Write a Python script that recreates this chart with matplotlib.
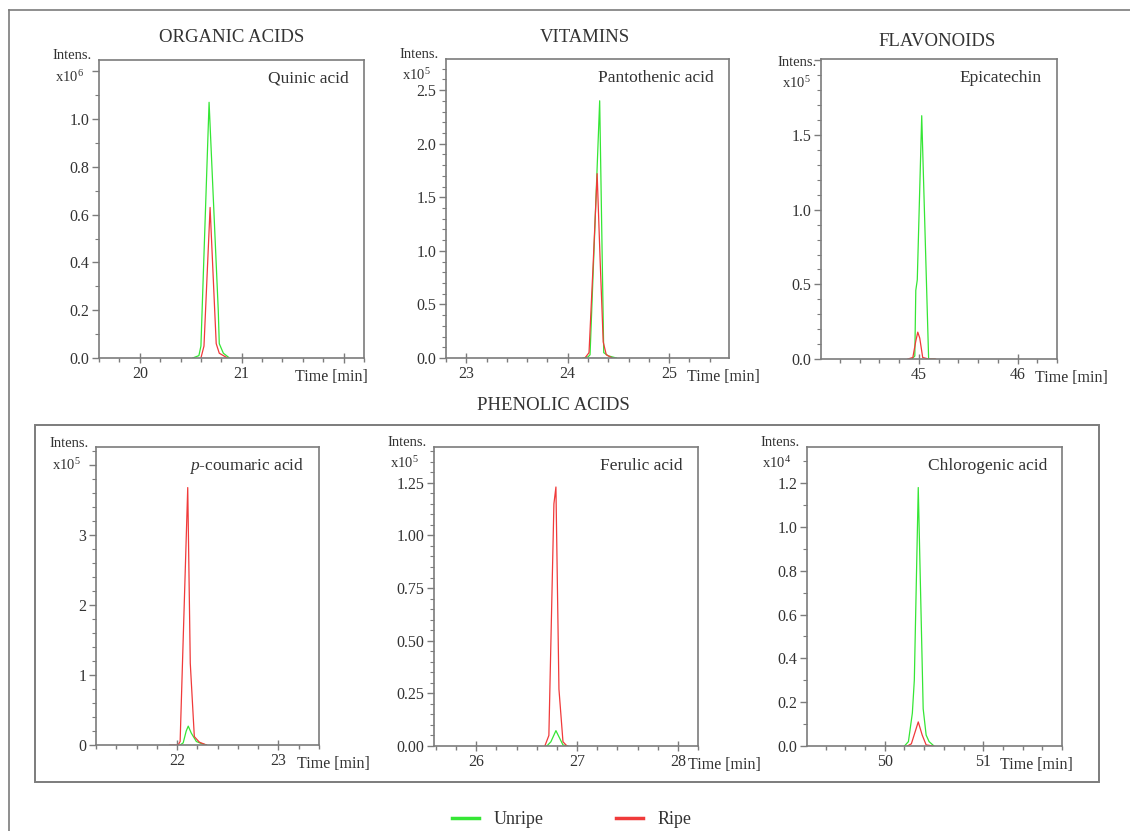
import matplotlib.pyplot as plt
from matplotlib.lines import Line2D
from matplotlib.patches import Rectangle
from matplotlib.ticker import MultipleLocator

W, H = 1130, 831

plt.rcParams["font.family"] = "Liberation Serif"
plt.rcParams["mathtext.fontset"] = "custom"
plt.rcParams["mathtext.rm"] = "Liberation Serif"
plt.rcParams["mathtext.it"] = "Liberation Serif:italic"

GREEN = "#35e635"
RED = "#f03a3a"
GREY = "#7c7c7c"
TEXT = "#333333"

# --- data (intensity in units of the panel's exponent) ---
quinic_unripe_t = [20.52, 20.58, 20.60, 20.68, 20.77, 20.78, 20.82, 20.88]
quinic_unripe = [0.0, 0.01, 0.05, 1.07, 0.20, 0.06, 0.02, 0.0]
quinic_ripe_t = [20.60, 20.63, 20.69, 20.735, 20.75, 20.78, 20.86]
quinic_ripe = [0.0, 0.05, 0.63, 0.20, 0.06, 0.02, 0.0]

panto_unripe_t = [24.15, 24.20, 24.22, 24.315, 24.355, 24.40, 24.48]
panto_unripe = [0.0, 0.01, 0.03, 2.40, 0.05, 0.02, 0.0]
panto_ripe_t = [24.17, 24.21, 24.25, 24.29, 24.32, 24.35, 24.38, 24.44]
panto_ripe = [0.0, 0.05, 0.86, 1.72, 0.90, 0.15, 0.03, 0.0]

epi_unripe_t = [44.93, 44.96, 44.97, 44.985, 45.03, 45.10, 45.16]
epi_unripe = [0.0, 0.02, 0.46, 0.53, 1.63, 0.0, 0.0]
epi_ripe_t = [44.89, 44.94, 44.97, 44.99, 45.01, 45.04, 45.10, 45.17]
epi_ripe = [0.0, 0.01, 0.12, 0.18, 0.14, 0.01, 0.0, 0.0]

coum_unripe_t = [22.03, 22.06, 22.09, 22.11, 22.14, 22.19, 22.24, 22.29]
coum_unripe = [0.0, 0.03, 0.20, 0.27, 0.17, 0.05, 0.02, 0.0]
coum_ripe_t = [21.93, 22.01, 22.03, 22.105, 22.13, 22.17, 22.22, 22.29]
coum_ripe = [0.0, 0.0, 0.05, 3.68, 1.17, 0.12, 0.04, 0.0]

ferul_unripe_t = [26.70, 26.74, 26.79, 26.86, 26.91]
ferul_unripe = [0.0, 0.02, 0.073, 0.005, 0.0]
ferul_ripe_t = [26.68, 26.72, 26.77, 26.79, 26.82, 26.86, 26.90]
ferul_ripe = [0.0, 0.05, 1.15, 1.23, 0.27, 0.02, 0.0]

chloro_unripe_t = [50.20, 50.24, 50.28, 50.30, 50.34, 50.39, 50.42, 50.45, 50.50]
chloro_unripe = [0.0, 0.02, 0.15, 0.30, 1.18, 0.17, 0.05, 0.02, 0.0]
chloro_ripe_t = [50.23, 50.27, 50.34, 50.38, 50.42, 50.49]
chloro_ripe = [0.0, 0.01, 0.11, 0.05, 0.005, 0.0]

panels = [
    dict(box=(99, 60, 364, 358), name="Quinic acid", exp="x10$^6$",
         unripe=(quinic_unripe_t, quinic_unripe), ripe=(quinic_ripe_t, quinic_ripe),
         xlim=(19.6, 22.2), xt=[20, 21, 22], xl=["20", "21", ""],
         ylim=(0, 1.247), yt=[0, 0.2, 0.4, 0.6, 0.8, 1.0, 1.2],
         yl=["0.0", "0.2", "0.4", "0.6", "0.8", "1.0", ""], ymin=0.1,
         tx=4, ioff=(-7, 4), eoff=(-30, -17)),
    dict(box=(446, 59, 729, 358), name="Pantothenic acid", exp="x10$^5$",
         unripe=(panto_unripe_t, panto_unripe), ripe=(panto_ripe_t, panto_ripe),
         xlim=(22.8, 25.59), xt=[23, 24, 25], xl=["23", "24", "25"],
         ylim=(0, 2.79), yt=[0, 0.5, 1.0, 1.5, 2.0, 2.5],
         yl=["0.0", "0.5", "1.0", "1.5", "2.0", "2.5"], ymin=0.1,
         tx=31, ioff=(-7, 4), eoff=(-30, -16)),
    dict(box=(821, 59, 1057, 359), name="Epicatechin", exp="x10$^5$",
         unripe=(epi_unripe_t, epi_unripe), ripe=(epi_ripe_t, epi_ripe),
         xlim=(44.01, 46.4), xt=[45, 46], xl=["45", "46"],
         ylim=(0, 2.01), yt=[0, 0.5, 1.0, 1.5, 2.0],
         yl=["0.0", "0.5", "1.0", "1.5", ""], ymin=0.1,
         tx=51, ioff=(-4, -4), eoff=(-25, -24)),
    dict(box=(96, 447, 319, 745), name="$p$-coumaric acid", exp="x10$^5$",
         unripe=(coum_unripe_t, coum_unripe), ripe=(coum_ripe_t, coum_ripe),
         xlim=(21.2, 23.4), xt=[22, 23], xl=["22", "23"],
         ylim=(0, 4.26), yt=[0, 1, 2, 3, 4], yl=["0", "1", "2", "3", ""], ymin=0.2,
         tx=51, ioff=(-7, 4), eoff=(-30, -18)),
    dict(box=(434, 447, 698, 746), name="Ferulic acid", exp="x10$^5$",
         unripe=(ferul_unripe_t, ferul_unripe), ripe=(ferul_ripe_t, ferul_ripe),
         xlim=(25.58, 28.2), xt=[26, 27, 28], xl=["26", "27", "28"],
         ylim=(0, 1.42), yt=[0, 0.25, 0.5, 0.75, 1.0, 1.25],
         yl=["0.00", "0.25", "0.50", "0.75", "1.00", "1.25"], ymin=0.05,
         tx=63, ioff=(-7, 4), eoff=(-30, -16)),
    dict(box=(807, 447, 1062, 746), name="Chlorogenic acid", exp="x10$^4$",
         unripe=(chloro_unripe_t, chloro_unripe), ripe=(chloro_ripe_t, chloro_ripe),
         xlim=(49.21, 51.8), xt=[50, 51], xl=["50", "51"],
         ylim=(0, 1.365), yt=[0, 0.2, 0.4, 0.6, 0.8, 1.0, 1.2],
         yl=["0.0", "0.2", "0.4", "0.6", "0.8", "1.0", "1.2"], ymin=0.1,
         tx=11, ioff=(-7, 4), eoff=(-30, -16)),
]

fig = plt.figure(figsize=(W / 100, H / 100), dpi=100)

for p in panels:
    l, t, r, b = p["box"]
    ax = fig.add_axes([l / W, 1 - b / H, (r - l) / W, (b - t) / H])
    ax.plot(*p["unripe"], color=GREEN, lw=0.9)
    ax.plot(*p["ripe"], color=RED, lw=0.9)
    ax.set_xlim(p["xlim"])
    ax.set_ylim(p["ylim"])
    ax.set_xticks(p["xt"], p["xl"])
    ax.set_yticks(p["yt"], p["yl"])
    ax.xaxis.set_minor_locator(MultipleLocator(0.2))
    ax.yaxis.set_minor_locator(MultipleLocator(p["ymin"]))
    for s in ax.spines.values():
        s.set_color(GREY)
        s.set_linewidth(1.2)
    ax.tick_params(axis="x", which="major", direction="inout", length=7, width=1,
                   color=GREY, labelsize=11.5, labelcolor=TEXT, pad=2)
    ax.tick_params(axis="x", which="minor", direction="out", length=3, width=1, color=GREY)
    ax.tick_params(axis="y", which="major", direction="out", length=5, width=1,
                   color=GREY, labelsize=11.5, labelcolor=TEXT, pad=2)
    ax.tick_params(axis="y", which="minor", direction="out", length=3, width=0.8, color=GREY)
    ax.annotate("Intens.", xy=(0, 1), xycoords="axes fraction", xytext=p["ioff"],
                textcoords="offset pixels", ha="right", va="center", fontsize=10.5, color=TEXT)
    ax.annotate(p["exp"], xy=(0, 1), xycoords="axes fraction", xytext=p["eoff"],
                textcoords="offset pixels", ha="center", va="center", fontsize=10.5, color=TEXT)
    ax.annotate(p["name"], xy=(1, 1), xycoords="axes fraction", xytext=(-15, -19),
                textcoords="offset pixels", ha="right", va="center", fontsize=12.5, color=TEXT)
    ax.annotate("Time [min]", xy=(1, 0), xycoords="axes fraction", xytext=(p["tx"], -19),
                textcoords="offset pixels", ha="right", va="center", fontsize=11.5, color=TEXT)

# group titles
for txt, x, y in [("ORGANIC ACIDS", 232, 38), ("VITAMINS", 585, 38),
                  ("FLAVONOIDS", 937, 41), ("PHENOLIC ACIDS", 553, 405)]:
    fig.text(x / W, 1 - y / H, txt, ha="center", va="center", fontsize=13.5, color=TEXT)

# frames
fig.add_artist(Line2D([9 / W, 9 / W], [0, 1 - 10 / H], color=GREY, lw=1.2))
fig.add_artist(Line2D([9 / W, 1], [1 - 10 / H, 1 - 10 / H], color=GREY, lw=1.2))
fig.add_artist(Rectangle((35 / W, 1 - 782 / H), (1099 - 35) / W, (782 - 425) / H,
                         fill=False, ec=GREY, lw=1.4))

handles = [Line2D([], [], color=GREEN, lw=2.5), Line2D([], [], color=RED, lw=2.5)]
fig.legend(handles, ["Unripe", "Ripe"], loc="center", ncol=2,
           bbox_to_anchor=(572 / W, 1 - 820 / H), frameon=False, fontsize=13,
           handlelength=1.5, columnspacing=4, labelcolor=TEXT)

fig.savefig("out.png", dpi=100)
